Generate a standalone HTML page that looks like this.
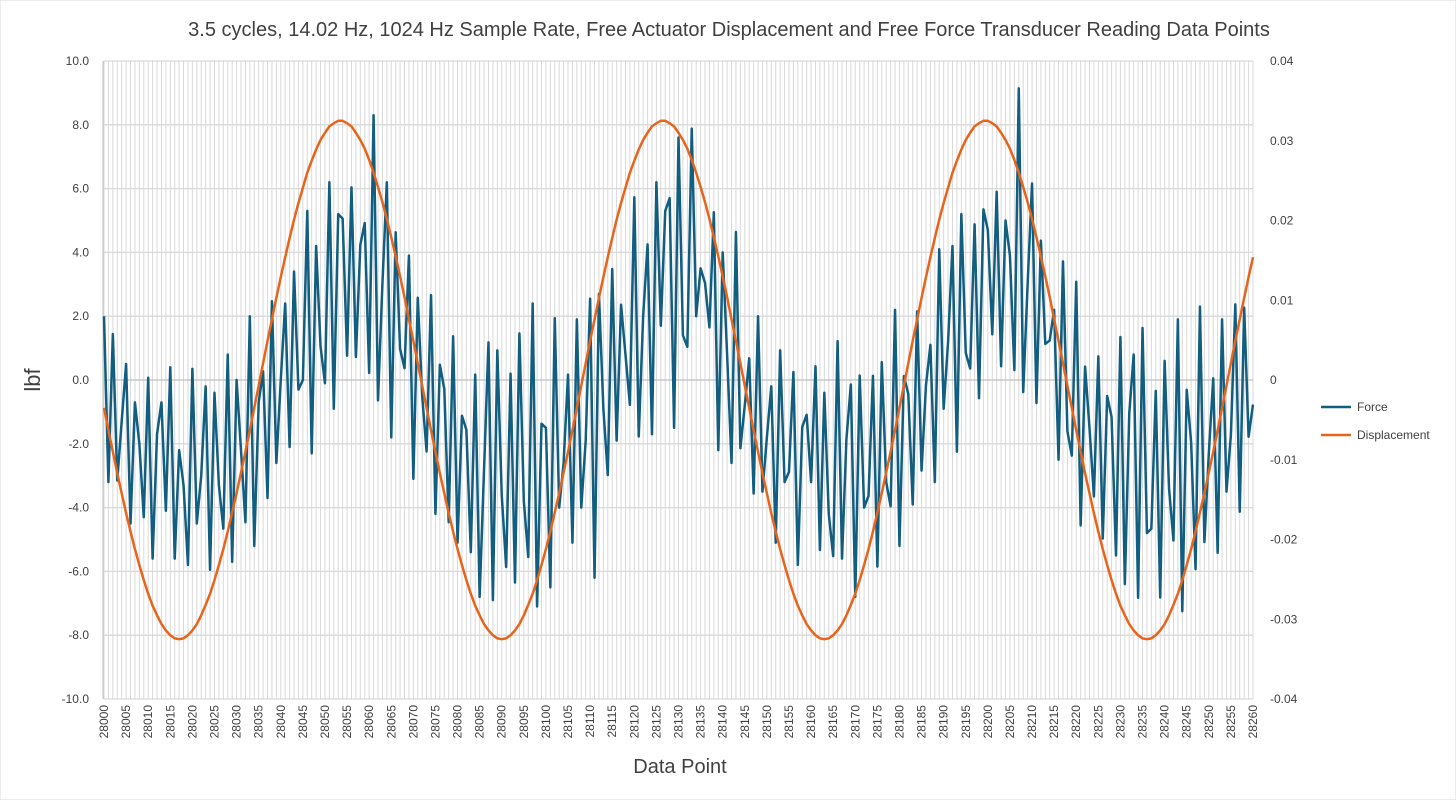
<!DOCTYPE html>
<html><head><meta charset="utf-8"><style>
body{margin:0;background:#fff;}
svg{display:block;font-family:"Liberation Sans",sans-serif;}
</style></head><body>
<svg id="chart" width="1456" height="800">
<rect x="0" y="0" width="1456" height="800" fill="#fff" stroke="#d9d9d9"/>
<text x="729" y="36" text-anchor="middle" font-size="20" fill="#404040">3.5 cycles, 14.02 Hz, 1024 Hz Sample Rate, Free Actuator Displacement and Free Force Transducer Reading Data Points</text>
<g id="grid"></g>
<g id="yl"></g>
<g id="yr"></g>
<g id="xl"></g>
<g id="series"></g>
<text x="40" y="380" text-anchor="middle" font-size="22" fill="#404040" transform="rotate(-90 40 380)">lbf</text>
<text x="680" y="773" text-anchor="middle" font-size="20" fill="#404040">Data Point</text>
<g>
<g><line x1="1321" y1="407" x2="1351" y2="407" stroke="#125e80" stroke-width="2.5"/><text x="1357" y="411" font-size="12" fill="#404040">Force</text></g>
<g><line x1="1321" y1="435" x2="1351" y2="435" stroke="#e8641b" stroke-width="2.5"/><text x="1357" y="439" font-size="12" fill="#404040">Displacement</text></g>
</g>
</svg>
<script>
const startPoint = 28000;
const force = [2.0,-3.2,1.44,-3.15,-1.3,0.5,-4.5,-0.7,-2.0,-4.3,
0.07,-5.6,-1.7,-0.7,-4.1,0.4,-5.6,-2.2,-3.3,-5.8,
0.35,-4.5,-3.0,-0.2,-5.95,-0.4,-3.3,-4.66,0.8,-5.7,
0.0,-2.2,-4.46,2.0,-5.2,-0.7,0.27,-3.7,2.47,-2.6,
0.0,2.4,-2.1,3.4,-0.3,0.0,5.3,-2.3,4.2,1.05,
-0.1,6.2,-0.9,5.2,5.06,0.76,6.04,0.72,4.24,4.92,
0.22,8.3,-0.64,3.0,6.2,-1.8,4.63,0.97,0.37,3.9,
-3.1,2.58,-0.5,-2.24,2.66,-4.2,0.48,-0.28,-4.46,1.37,
-5.1,-1.12,-1.56,-5.4,0.17,-6.8,-2.8,1.18,-6.9,0.93,
-3.6,-5.86,0.2,-6.35,1.46,-3.8,-5.55,2.4,-7.1,-1.37,
-1.5,-6.5,1.94,-4.0,-2.6,0.17,-5.1,1.9,-4.0,-1.9,
2.55,-6.2,2.7,-0.9,-2.98,3.48,-1.9,2.36,0.8,-0.78,
5.73,-1.77,2.0,4.25,-1.7,6.2,1.7,5.3,5.7,-1.5,
7.6,1.4,1.04,7.88,2.0,3.5,3.04,1.65,5.26,-2.2,
4.0,0.8,-2.6,4.64,-2.14,-0.8,0.68,-3.56,2.0,-3.5,
-1.8,-0.2,-5.1,0.93,-3.2,-2.88,0.25,-5.8,-1.47,-1.09,
-3.2,0.43,-5.33,-0.4,-4.2,-5.52,1.22,-5.6,-1.85,-0.14,
-6.8,0.14,-4.0,-3.63,0.13,-5.85,0.56,-3.2,-3.96,2.2,
-5.2,0.12,-0.44,-3.9,2.15,-2.84,-0.16,1.1,-3.2,4.1,
-0.9,1.19,4.2,-2.25,5.2,0.85,0.36,4.88,-0.57,5.35,
4.7,1.43,5.9,0.43,5.0,3.9,0.31,9.14,-0.38,3.0,
6.16,-0.72,4.37,1.13,1.24,2.2,-2.5,3.72,-1.6,-2.37,
3.08,-4.56,0.42,-1.5,-3.65,0.74,-4.97,-0.5,-1.16,-5.5,
1.35,-6.4,-1.05,0.8,-6.83,1.63,-4.8,-4.66,-0.34,-6.82,
0.6,-3.4,-5.03,1.9,-7.25,-0.31,-1.95,-5.93,2.3,-5.08,
-2.3,0.05,-5.42,1.9,-3.5,-1.72,2.37,-4.13,2.27,-1.78,-0.77];
const displacement = [
-0.0035,-0.0063,-0.0090,-0.0117,-0.0142,-0.0167,-0.0190,-0.0212,-0.0232,-0.0251,-0.0268,-0.0283,-0.0295,-0.0306,-0.0314,-0.0320,-0.0324,-0.0325,-0.0324,-0.0320,-0.0314,-0.0306,-0.0295,-0.0282,-0.0268,-0.0251,-0.0232,-0.0212,-0.0190,-0.0166,-0.0142,-0.0116,-0.0090,-0.0063,-0.0035,-0.0007,0.0021,0.0049,0.0076,0.0103,0.0129,0.0154,0.0178,0.0201,0.0222,0.0241,0.0260,0.0275,0.0289,0.0301,0.0310,0.0318,0.0322,0.0325,0.0325,0.0322,0.0318,0.0310,0.0301,0.0290,0.0276,0.0260,0.0242,0.0223,0.0202,0.0179,0.0155,0.0130,0.0104,0.0076,0.0049,0.0021,-0.0007,
-0.0035,-0.0063,-0.0090,-0.0117,-0.0142,-0.0167,-0.0190,-0.0212,-0.0232,-0.0251,-0.0268,-0.0283,-0.0295,-0.0306,-0.0314,-0.0320,-0.0324,-0.0325,-0.0324,-0.0320,-0.0314,-0.0306,-0.0295,-0.0282,-0.0268,-0.0251,-0.0232,-0.0212,-0.0190,-0.0166,-0.0142,-0.0116,-0.0090,-0.0063,-0.0035,-0.0007,0.0021,0.0049,0.0076,0.0103,0.0129,0.0154,0.0178,0.0201,0.0222,0.0241,0.0260,0.0275,0.0289,0.0301,0.0310,0.0318,0.0322,0.0325,0.0325,0.0322,0.0318,0.0310,0.0301,0.0290,0.0276,0.0260,0.0242,0.0223,0.0202,0.0179,0.0155,0.0130,0.0104,0.0076,0.0049,0.0021,-0.0007,
-0.0035,-0.0063,-0.0090,-0.0117,-0.0142,-0.0167,-0.0190,-0.0212,-0.0232,-0.0251,-0.0268,-0.0283,-0.0295,-0.0306,-0.0314,-0.0320,-0.0324,-0.0325,-0.0324,-0.0320,-0.0314,-0.0306,-0.0295,-0.0282,-0.0268,-0.0251,-0.0232,-0.0212,-0.0190,-0.0166,-0.0142,-0.0116,-0.0090,-0.0063,-0.0035,-0.0007,0.0021,0.0049,0.0076,0.0103,0.0129,0.0154,0.0178,0.0201,0.0222,0.0241,0.0260,0.0275,0.0289,0.0301,0.0310,0.0318,0.0322,0.0325,0.0325,0.0322,0.0318,0.0310,0.0301,0.0290,0.0276,0.0260,0.0242,0.0223,0.0202,0.0179,0.0155,0.0130,0.0104,0.0076,0.0049,0.0021,-0.0007,
-0.0035,-0.0063,-0.0090,-0.0117,-0.0142,-0.0167,-0.0190,-0.0212,-0.0232,-0.0251,-0.0268,-0.0283,-0.0295,-0.0306,-0.0314,-0.0320,-0.0324,-0.0325,-0.0324,-0.0320,-0.0314,-0.0306,-0.0295,-0.0282,-0.0268,-0.0251,-0.0232,-0.0212,-0.0190,-0.0166,-0.0142,-0.0116,-0.0090,-0.0063,-0.0035,-0.0007,0.0021,0.0049,0.0076,0.0103,0.0129,0.0154];
const leftTicks = [-10,-8,-6,-4,-2,0,2,4,6,8,10];
const rightTicks = [-0.04,-0.03,-0.02,-0.01,0,0.01,0.02,0.03,0.04];
const rightLabels = ["-0.04","-0.03","-0.02","-0.01","0","0.01","0.02","0.03","0.04"];

const NS = "http://www.w3.org/2000/svg";
const X0 = 104, X1 = 1253, YT = 61, YB = 699;
const n = force.length;
function xs(i){ return X0 + (X1 - X0) * i / (n - 1); }
function yL(v){ return YB - (v + 10) / 20 * (YB - YT); }
function yR(v){ return YB - (v + 0.04) / 0.08 * (YB - YT); }
function mk(tag, attrs, parent){
  const e = document.createElementNS(NS, tag);
  for (const k in attrs) e.setAttribute(k, attrs[k]);
  parent.appendChild(e);
  return e;
}
const grid = document.getElementById('grid');
for (let i = 0; i < n; i++) {
  const l = mk('line', {x1: xs(i), x2: xs(i), y1: YT, y2: YB, stroke: '#d9d9d9', 'stroke-width': 1}, grid);
  
  
}
const yl = document.getElementById('yl');
leftTicks.forEach(v => {
  const l = mk('line', {x1: X0, x2: X1, y1: yL(v), y2: yL(v), stroke: v === 0 ? '#bfbfbf' : '#d9d9d9', 'stroke-width': 1.3}, grid);
  
  
  const t = mk('text', {x: 89, y: yL(v) + 4, 'text-anchor': 'end', 'font-size': 12, fill: '#404040'}, yl);
  t.textContent = v.toFixed(1);
  
  
});
const ax = mk('line', {x1: X0 - 1, x2: X0 - 1, y1: YT, y2: YB, stroke: '#bfbfbf', 'stroke-width': 1}, grid);


const yr = document.getElementById('yr');
rightTicks.forEach((v, i) => {
  const t = mk('text', {x: 1270, y: yR(v) + 4, 'text-anchor': 'start', 'font-size': 12, fill: '#404040'}, yr);
  t.textContent = rightLabels[i];
  
  
});
const xl = document.getElementById('xl');
for (let i = 0; i < n; i += 5) {
  const x = xs(i) + 4, y = 705;
  const t = mk('text', {x: x, y: y, 'text-anchor': 'end', 'font-size': 12, fill: '#404040', transform: 'rotate(-90 ' + x + ' ' + y + ')'}, xl);
  t.textContent = String(startPoint + i);
  
  
}
const series = document.getElementById('series');
const fp = mk('polyline', {points: force.map((v, i) => xs(i).toFixed(2) + ',' + yL(v).toFixed(2)).join(' '), fill: 'none', stroke: '#125e80', 'stroke-width': 2.5, 'stroke-linejoin': 'round'}, series);


const dp = mk('polyline', {points: displacement.map((v, i) => xs(i).toFixed(2) + ',' + yR(v).toFixed(2)).join(' '), fill: 'none', stroke: '#e8641b', 'stroke-width': 2.5, 'stroke-linejoin': 'round'}, series);


</script>
</body></html>
